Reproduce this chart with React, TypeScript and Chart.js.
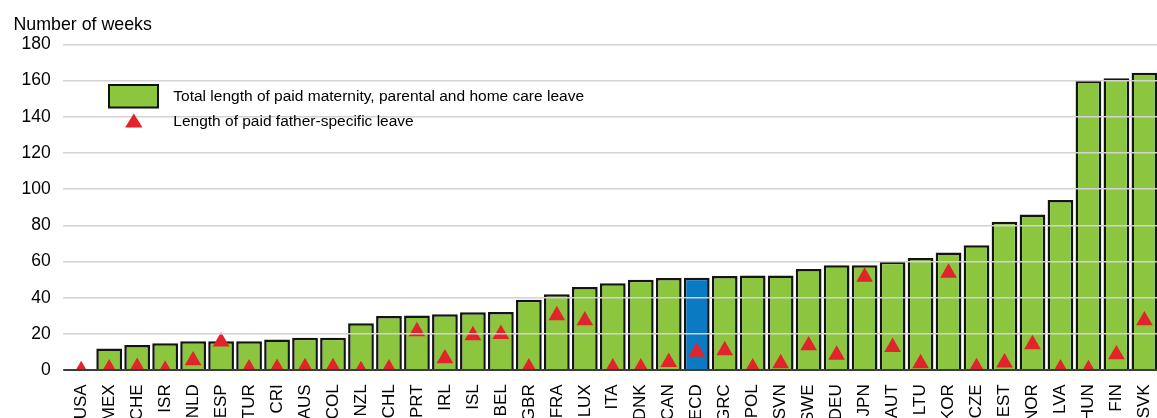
import React, { useEffect, useRef } from 'react';
import { Chart, registerables } from 'chart.js';

Chart.register(...registerables);

const categories = ['USA', 'MEX', 'CHE', 'ISR', 'NLD', 'ESP', 'TUR', 'CRI', 'AUS', 'COL', 'NZL', 'CHL', 'PRT', 'IRL', 'ISL', 'BEL', 'GBR', 'FRA', 'LUX', 'ITA', 'DNK', 'CAN', 'OECD', 'GRC', 'POL', 'SVN', 'SWE', 'DEU', 'JPN', 'AUT', 'LTU', 'KOR', 'CZE', 'EST', 'NOR', 'LVA', 'HUN', 'FIN', 'SVK'];

const totalLeave = [0, 12, 14, 15, 16, 16, 16, 17, 18, 18, 26, 30, 30.2, 31, 32, 32.2, 39, 42, 46, 48, 50, 51, 51.1, 52, 52.3, 52.4, 56, 58, 58, 60, 62, 65, 69, 82, 86, 94, 160, 161.3, 164.3];

const fatherLeave = [0, 1, 1.7, 0.2, 5.4, 15.8, 1, 1.2, 1.6, 1.6, 0, 1, 21.5, 6.5, 19.3, 20, 1.5, 30.3, 27.5, 1.5, 1.5, 4.5, 10.2, 11, 1.5, 3.8, 13.7, 8.5, 51.6, 12.8, 3.8, 53.8, 1.6, 4.2, 14.3, 0.9, 0.5, 8.7, 27.5];

const yMin = 0;
const yMax = 180;
const yStep = 20;

const highlightCategory = 'OECD';
const yTitle = 'Number of weeks';
const totalLabel = 'Total length of paid maternity, parental and home care leave';
const fatherLabel = 'Length of paid father-specific leave';

const GREEN = '#8cc63f';
const BLUE = '#0a7bc2';
const RED = '#e1232b';
const FONT = "'Liberation Sans', Arial, sans-serif";

const overlayPlugin = {
  id: 'overlay',
  afterDraw(chart: any) {
    const ctx = chart.ctx;
    ctx.save();
    // axis title
    ctx.fillStyle = '#000';
    ctx.font = `17.8px ${FONT}`;
    ctx.textAlign = 'left';
    ctx.textBaseline = 'alphabetic';
    ctx.fillText(yTitle, 13.5, 30);

    // legend
    ctx.fillStyle = GREEN;
    ctx.fillRect(109, 85, 49, 22.5);
    ctx.strokeStyle = '#111';
    ctx.lineWidth = 2;
    ctx.strokeRect(109, 85, 49, 22.5);

    ctx.fillStyle = RED;
    ctx.beginPath();
    ctx.moveTo(133.8, 113.5);
    ctx.lineTo(142.5, 127.5);
    ctx.lineTo(125.1, 127.5);
    ctx.closePath();
    ctx.fill();

    ctx.fillStyle = '#000';
    ctx.font = `15.5px ${FONT}`;
    ctx.textBaseline = 'middle';
    ctx.fillText(totalLabel, 173.3, 96.5);
    ctx.fillText(fatherLabel, 173.3, 121.5);
    ctx.restore();
  },
};

export default function App() {
  const ref = useRef<HTMLCanvasElement>(null);

  useEffect(() => {
    const canvas = ref.current;
    if (!canvas) return;
    const chart = new Chart(canvas, {
      type: 'bar',
      data: {
        labels: categories,
        datasets: [
          {
            type: 'line',
            label: fatherLabel,
            data: fatherLeave,
            showLine: false,
            pointStyle: 'triangle',
            pointRadius: 9.6,
            pointHoverRadius: 9.6,
            pointBackgroundColor: RED,
            pointBorderWidth: 0,
            borderWidth: 0,
            order: 0,
          } as any,
          {
            type: 'bar',
            label: totalLabel,
            data: totalLeave,
            backgroundColor: categories.map((c) => (c === highlightCategory ? BLUE : GREEN)),
            borderColor: '#141414',
            borderWidth: 2.5,
            barPercentage: 0.92,
            categoryPercentage: 1,
            order: 1,
          },
        ],
      },
      options: {
        responsive: false,
        animation: false,
        devicePixelRatio: 1,
        events: [],
        layout: { padding: { top: 44.3, left: 0, right: 0, bottom: 0 } },
        plugins: {
          legend: { display: false },
          tooltip: { enabled: false },
          title: { display: false },
        },
        scales: {
          x: {
            grid: { display: false, drawTicks: false },
            border: { display: true, color: '#3c3c3c', width: 2, z: 2 },
            ticks: {
              autoSkip: false,
              minRotation: 90,
              maxRotation: 90,
              padding: 14,
              color: '#000',
              font: { family: FONT, size: 17 },
            },
            afterFit: (s: any) => {
              s.height = 89.7;
              s.paddingLeft = 0;
              s.paddingRight = 0;
            },
          },
          y: {
            min: yMin,
            max: yMax,
            grid: {
              color: (c: any) => (c.tick && c.tick.value === 0 ? '#3c3c3c' : '#d2d2d2'),
              lineWidth: (c: any) => (c.tick && c.tick.value === 0 ? 2 : 1.5),
              tickLength: 4,
              z: 1,
            },
            border: { display: false },
            ticks: {
              stepSize: yStep,
              padding: 12.5,
              color: '#000',
              font: { family: FONT, size: 17.5 },
            },
            afterFit: (s: any) => {
              s.width = 67.2;
              s.paddingTop = 0;
              s.paddingBottom = 0;
            },
          },
        },
      },
      plugins: [overlayPlugin],
    });
    return () => chart.destroy();
  }, []);

  return (
    <div style={{ position: 'fixed', left: 0, top: 0, width: 1157, height: 418, overflow: 'hidden', background: '#fff' }}>
      <canvas ref={ref} width={1168} height={460} style={{ display: 'block' }} />
    </div>
  );
}
